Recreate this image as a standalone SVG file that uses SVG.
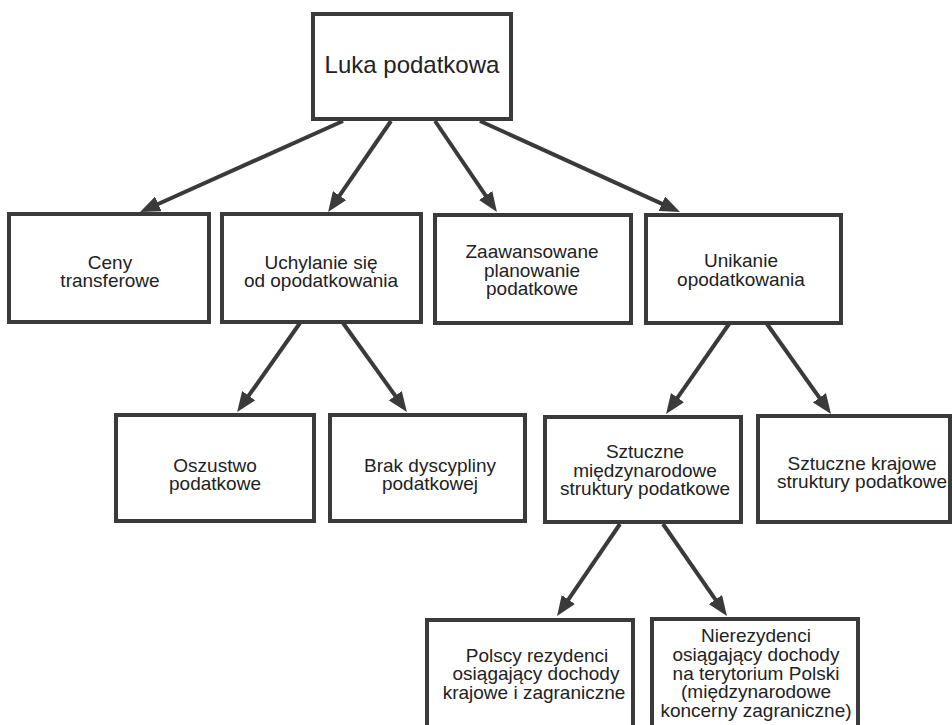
<svg xmlns="http://www.w3.org/2000/svg" width="952" height="725" viewBox="0 0 952 725">
<style>
.box{fill:#fff;stroke:#3a3a3a;stroke-width:4}
.t{font-family:"Liberation Sans",Arial,sans-serif;font-size:19px;fill:#222;text-anchor:middle}
.big{font-size:24px}
.c{stroke:#3a3a3a;stroke-width:4;fill:none;marker-end:url(#ah)}
</style>
<defs>
<marker id="ah" viewBox="0 0 20 16" refX="10" refY="8" markerWidth="20" markerHeight="16" markerUnits="userSpaceOnUse" orient="auto">
<path d="M0,0 L20,8 L0,16 z" fill="#3a3a3a"/>
</marker>
</defs>
<rect width="952" height="725" fill="#fff"/>
<g id="connectors">
<line class="c" x1="343" y1="121" x2="149.2" y2="208"/>
<line class="c" x1="391" y1="121" x2="333.8" y2="203.8"/>
<line class="c" x1="435" y1="121" x2="491.3" y2="203.8"/>
<line class="c" x1="480" y1="121" x2="670.9" y2="207.9"/>
<line class="c" x1="300" y1="323" x2="242.9" y2="403.9"/>
<line class="c" x1="343" y1="323" x2="401.1" y2="403.9"/>
<line class="c" x1="729" y1="324" x2="671.8" y2="405.8"/>
<line class="c" x1="767" y1="324" x2="825.2" y2="405.9"/>
<line class="c" x1="620" y1="524" x2="562.7" y2="607.8"/>
<line class="c" x1="663" y1="524" x2="721.2" y2="607.8"/>
</g>
<g id="luka">
<rect class="box" x="313" y="14" width="198" height="105"/>
<text class="t big" x="412" y="73">Luka podatkowa</text>
</g>
<g id="ceny">
<rect class="box" x="9" y="214" width="200" height="108"/>
<text class="t" x="110"><tspan x="110" y="269">Ceny</tspan><tspan x="110" y="287">transferowe</tspan></text>
</g>
<g id="uchylanie">
<rect class="box" x="222" y="214" width="199" height="108"/>
<text class="t" x="321"><tspan x="321" y="269">Uchylanie się</tspan><tspan x="321" y="287">od opodatkowania</tspan></text>
</g>
<g id="zaawansowane">
<rect class="box" x="435" y="215" width="196" height="108"/>
<text class="t" x="532"><tspan x="532" y="258">Zaawansowane</tspan><tspan x="532" y="277">planowanie</tspan><tspan x="532" y="295">podatkowe</tspan></text>
</g>
<g id="unikanie">
<rect class="box" x="646" y="215" width="195" height="108"/>
<text class="t" x="741"><tspan x="741" y="267">Unikanie</tspan><tspan x="741" y="286">opodatkowania</tspan></text>
</g>
<g id="oszustwo">
<rect class="box" x="116" y="415" width="198" height="106"/>
<text class="t" x="215"><tspan x="215" y="472">Oszustwo</tspan><tspan x="215" y="490">podatkowe</tspan></text>
</g>
<g id="brak">
<rect class="box" x="330" y="415" width="195" height="106"/>
<text class="t" x="430"><tspan x="430" y="472">Brak dyscypliny</tspan><tspan x="430" y="490">podatkowej</tspan></text>
</g>
<g id="sztuczne-miedzynarodowe">
<rect class="box" x="545" y="417" width="196" height="105"/>
<text class="t" x="645"><tspan x="645" y="458">Sztuczne</tspan><tspan x="645" y="477">międzynarodowe</tspan><tspan x="645" y="495">struktury podatkowe</tspan></text>
</g>
<g id="sztuczne-krajowe">
<rect class="box" x="758" y="416" width="192" height="106"/>
<text class="t" x="862"><tspan x="862" y="470">Sztuczne krajowe</tspan><tspan x="862" y="488">struktury podatkowe</tspan></text>
</g>
<g id="polscy">
<rect class="box" x="427" y="620" width="206" height="120"/>
<text class="t" x="536"><tspan x="537" y="662">Polscy rezydenci</tspan><tspan x="536" y="680">osiągający dochody</tspan><tspan x="534" y="699">krajowe i zagraniczne</tspan></text>
</g>
<g id="nierezydenci">
<rect class="box" x="652" y="619" width="206" height="120"/>
<text class="t" x="756"><tspan x="756" y="642">Nierezydenci</tspan><tspan x="756" y="661">osiągający dochody</tspan><tspan x="756" y="680">na terytorium Polski</tspan><tspan x="756" y="698">(międzynarodowe</tspan><tspan x="756" y="717">koncerny zagraniczne)</tspan></text>
</g>
</svg>
